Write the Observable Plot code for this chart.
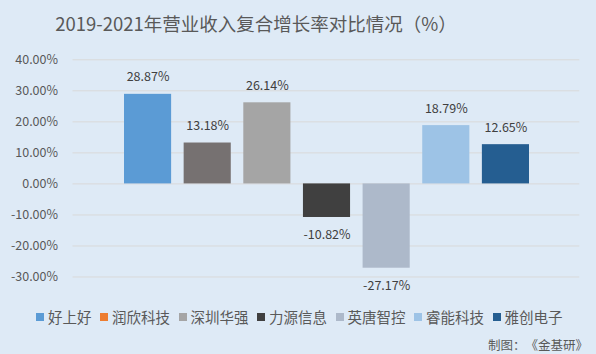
<!DOCTYPE html>
<html><head><meta charset="utf-8">
<script src="https://cdn.jsdelivr.net/npm/d3@7"></script>
<script src="https://cdn.jsdelivr.net/npm/@observablehq/plot@0.6"></script>
<style>
html,body{margin:0;padding:0;background:#DEEAF6;}
#chart{position:relative;width:596px;height:354px;background:#DEEAF6;overflow:hidden;font-family:"Noto Sans CJK SC","Noto Sans",sans-serif;text-spacing-trim:space-all;}
#plot{position:absolute;left:0;top:0;}
#title{position:absolute;left:0;top:10px;width:512px;text-align:center;font-size:18.5px;color:#595959;line-height:26px;white-space:nowrap;}
#legend{position:absolute;left:36px;top:307px;height:20px;display:flex;align-items:center;font-size:14.5px;color:#595959;line-height:20px;white-space:nowrap;}
.item{display:flex;align-items:center;margin-right:8.5px;}
.sw{width:8px;height:8px;margin-right:4px;}
#caption{position:absolute;right:8px;top:337px;font-size:12.5px;line-height:16px;color:#595959;white-space:nowrap;}
</style>
</head><body>
<div id="chart">
  <div id="plot"></div>
  <div id="title"></div>
  <div id="legend"></div>
  <div id="caption"></div>
</div>
<script>
const titleText = "2019-2021年营业收入复合增长率对比情况（%）";
const captionText = "制图：《金基研》";
const companies = ["好上好","润欣科技","深圳华强","力源信息","英唐智控","睿能科技","雅创电子"];
const values = [28.87, 13.18, 26.14, -10.82, -27.17, 18.79, 12.65];
const yTicks = [-30, -20, -10, 0, 10, 20, 30, 40];
const barColors = ["#5B9BD5","#767171","#A5A5A5","#404040","#ADB9CA","#9DC3E6","#255E91"];
const legendColors = ["#5B9BD5","#ED7D31","#A5A5A5","#404040","#ADB9CA","#9DC3E6","#255E91"];

const data = companies.map((c, i) => ({c, v: values[i]}));
const fmt = d => d.toFixed(2) + "%";
const font = '"Noto Sans CJK SC","Noto Sans",sans-serif';

document.getElementById("title").textContent = titleText;
document.getElementById("caption").textContent = captionText;
const lg = document.getElementById("legend");
companies.forEach((c, i) => {
  const it = document.createElement("div"); it.className = "item";
  const sw = document.createElement("span"); sw.className = "sw"; sw.style.background = legendColors[i];
  const tx = document.createElement("span"); tx.textContent = c;
  it.appendChild(sw); it.appendChild(tx); lg.appendChild(it);
});

const chart = Plot.plot({
  width: 596, height: 354,
  marginTop: 59.3, marginBottom: 77.5, marginLeft: 72.5, marginRight: 16.7,
  style: {background: "transparent", fontFamily: font, fontSize: "12.5px", color: "#595959", overflow: "visible"},
  x: {domain: companies, range: [124, 529], paddingInner: 0.21, paddingOuter: 0, round: false, axis: null},
  y: {domain: [-30, 40], axis: null},
  color: {domain: companies, range: barColors},
  marks: [
    Plot.ruleY(yTicks, {stroke: "#D9D9D9", strokeWidth: 1}),
    Plot.barY(data, {x: "c", y: "v", fill: "c"}),
    Plot.axisY(yTicks, {tickSize: 0, tickPadding: 15, tickFormat: fmt, fontSize: 12.5, fill: "#595959", label: null}),
    Plot.text(data.filter(d => d.v >= 0), {x: "c", y: "v", text: d => fmt(d.v), dy: -17, fill: "#404040", fontSize: 12.5}),
    Plot.text(data.filter(d => d.v < 0), {x: "c", y: "v", text: d => fmt(d.v), dy: 17.5, fill: "#404040", fontSize: 12.5})
  ]
});
document.getElementById("plot").appendChild(chart);
</script>
</body></html>
